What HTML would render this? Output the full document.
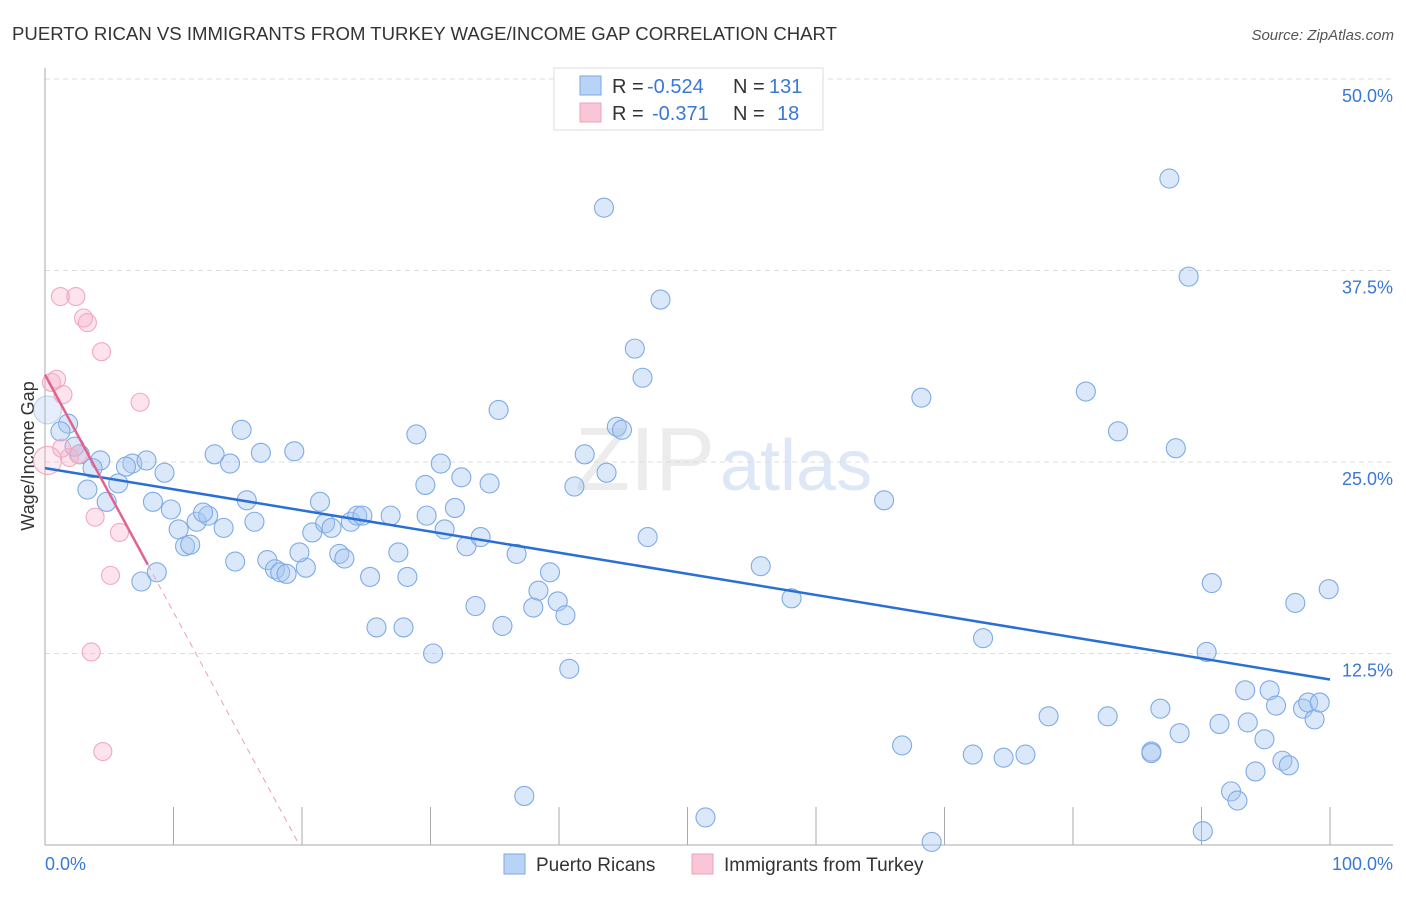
<!DOCTYPE html>
<html><head><meta charset="utf-8"><style>
body{margin:0;background:#fff;font-family:"Liberation Sans",sans-serif}
svg text{font-family:"Liberation Sans",sans-serif}
</style></head><body>
<svg id="chart" width="1406" height="892" xmlns="http://www.w3.org/2000/svg">
<text x="12" y="40" font-size="18" fill="#333" textLength="825" lengthAdjust="spacingAndGlyphs">PUERTO RICAN VS IMMIGRANTS FROM TURKEY WAGE/INCOME GAP CORRELATION CHART</text>
<text x="1394" y="40" font-size="15" fill="#555" text-anchor="end" font-style="italic">Source: ZipAtlas.com</text>
<text transform="translate(34,456) rotate(-90)" font-size="18" fill="#333" text-anchor="middle">Wage/Income Gap</text>
<text x="715" y="490" font-size="90" fill="#ececec" text-anchor="end" font-family="Liberation Serif">ZIP</text>
<text x="720" y="490" font-size="72" fill="#dde7f6">atlas</text>
<g id="grid"></g><g id="axes"></g><g id="marks"></g><g id="lines"></g>
<g>
<rect x="554" y="68" width="269" height="62" fill="#fff" stroke="#ddd"/>
<rect x="580" y="76" width="21" height="19" fill="#b8d3f5" stroke="#7aa8e6"/>
<rect x="580" y="103" width="21" height="19" fill="#f9c6d6" stroke="#f0a0b8"/>
<text x="612" y="93" font-size="20" fill="#333">R =</text>
<text x="647" y="93" font-size="20" fill="#3a78d4">-0.524</text>
<text x="733" y="93" font-size="20" fill="#333">N =</text>
<text x="769" y="93" font-size="20" fill="#3a78d4">131</text>
<text x="612" y="120" font-size="20" fill="#333">R =</text>
<text x="652" y="120" font-size="20" fill="#3a78d4">-0.371</text>
<text x="733" y="120" font-size="20" fill="#333">N =</text>
<text x="777" y="120" font-size="20" fill="#3a78d4">18</text>
</g>
<g>
<rect x="504" y="854" width="21" height="20" fill="#b8d3f5" stroke="#7aa8e6"/>
<text x="536" y="871" font-size="19" fill="#333">Puerto Ricans</text>
<rect x="692" y="854" width="21" height="20" fill="#f9c6d6" stroke="#f0a0b8"/>
<text x="724" y="871" font-size="19" fill="#333">Immigrants from Turkey</text>
</g>
</svg>
<script>
const blueX=[0.2,1.8,1.2,2.3,2.7,4.3,3.7,5.7,3.3,4.8,6.8,7.9,6.3,9.3,8.4,9.8,7.5,8.7,10.4,10.9,11.3,11.8,12.7,12.3,13.9,14.8,13.2,15.3,14.4,16.8,15.7,16.3,17.3,17.9,18.3,18.8,19.4,20.3,19.8,20.8,21.4,21.8,22.3,22.9,23.3,23.8,24.3,24.7,25.3,25.8,26.9,27.5,27.9,28.2,28.9,29.6,29.7,30.2,30.8,31.1,31.9,32.4,32.8,33.5,33.9,34.6,35.3,35.6,36.7,37.3,38.0,38.4,39.3,39.9,40.5,40.8,41.2,42.0,43.5,43.7,44.5,44.9,45.9,46.5,46.9,47.9,51.4,55.7,58.1,65.3,66.7,68.2,69.0,72.2,73.0,74.6,76.3,78.1,81.0,82.7,83.5,86.1,86.1,86.8,87.5,88.0,88.3,89.0,90.1,90.4,90.8,91.4,92.3,92.8,93.4,93.6,94.2,94.9,95.3,95.8,96.3,96.8,97.3,97.9,98.3,98.8,99.2,99.9];
const blueY=[28.4,27.5,27.0,26.0,25.5,25.1,24.6,23.6,23.2,22.4,24.9,25.1,24.7,24.3,22.4,21.9,17.2,17.8,20.6,19.5,19.6,21.1,21.5,21.7,20.7,18.5,25.5,27.1,24.9,25.6,22.5,21.1,18.6,18.0,17.8,17.7,25.7,18.1,19.1,20.4,22.4,21.0,20.7,19.0,18.7,21.1,21.5,21.5,17.5,14.2,21.5,19.1,14.2,17.5,26.8,23.5,21.5,12.5,24.9,20.6,22.0,24.0,19.5,15.6,20.1,23.6,28.4,14.3,19.0,3.2,15.5,16.6,17.8,15.9,15.0,11.5,23.4,25.5,41.6,24.3,27.3,27.1,32.4,30.5,20.1,35.6,1.8,18.2,16.1,22.5,6.5,29.2,0.2,5.9,13.5,5.7,5.9,8.4,29.6,8.4,27.0,6.1,6.0,8.9,43.5,25.9,7.3,37.1,0.9,12.6,17.1,7.9,3.5,2.9,10.1,8.0,4.8,6.9,10.1,9.1,5.5,5.2,15.8,8.9,9.3,8.2,9.3,16.7];
const pinkX=[0.5,0.9,1.2,2.4,3.0,3.3,1.4,4.4,7.4,3.9,5.8,5.1,3.6,4.5,1.9,2.6,0.2,1.3];
const pinkY=[30.2,30.4,35.8,35.8,34.4,34.1,29.4,32.2,28.9,21.4,20.4,17.6,12.6,6.1,25.3,25.5,25.1,25.9];
const blueTrend=[24.6,10.8];
const pinkTrend=[30.7,18.3,8.0,19.8];
const yTicks=[12.5,25,37.5,50];
const yTickLabels=["12.5%","25.0%","37.5%","50.0%"];
const NS="http://www.w3.org/2000/svg";
const sx=v=>45+v*12.85, sy=v=>845-v*15.32;
function mk(tag,attrs,parent){const e=document.createElementNS(NS,tag);for(const k in attrs)e.setAttribute(k,attrs[k]);document.getElementById(parent).appendChild(e);return e;}
yTicks.forEach((t,i)=>{
 const g=mk('line',{x1:45,x2:1393,y1:sy(t),y2:sy(t),stroke:'#ddd','stroke-dasharray':'5,4'},'grid');
 
 
 const l=mk('text',{x:1393,y:sy(t)+23,'font-size':18,fill:'#3a78d4','text-anchor':'end'},'grid');
 l.textContent=yTickLabels[i];
 
 
});
const ax=mk('line',{x1:45,x2:45,y1:68,y2:845,stroke:'#aaa'},'axes');


const bx=mk('line',{x1:45,x2:1393,y1:845,y2:845,stroke:'#aaa'},'axes');


for(let i=1;i<=10;i++){const t=mk('line',{x1:sx(i*10),x2:sx(i*10),y1:807,y2:845,stroke:'#aaa'},'axes');
 
 }
const x0=mk('text',{x:45,y:870,'font-size':18,fill:'#3a78d4'},'axes');x0.textContent='0.0%';


const x1=mk('text',{x:1393,y:870,'font-size':18,fill:'#3a78d4','text-anchor':'end'},'axes');x1.textContent='100.0%';


blueX.forEach((x,i)=>{const c=mk('circle',{cx:sx(x),cy:sy(blueY[i]),r:i==0?14:9.5,fill:i==0?'rgba(170,200,240,0.3)':'rgba(165,198,240,0.4)',stroke:i==0?'rgba(120,160,225,0.4)':'#7fabe6','stroke-width':1.1},'marks');
 
 });
pinkX.forEach((x,i)=>{const c=mk('circle',{cx:sx(x),cy:sy(pinkY[i]),r:i==16?14:9,fill:i==16?'rgba(246,180,200,0.25)':'rgba(246,176,200,0.35)',stroke:'#f2a8c0','stroke-width':1.1},'marks');
 
 });
const bl=mk('line',{x1:sx(0),y1:sy(blueTrend[0]),x2:sx(100),y2:sy(blueTrend[1]),stroke:'#2a6fd6','stroke-width':2.5},'lines');


const pl=mk('line',{x1:sx(0),y1:sy(pinkTrend[0]),x2:sx(pinkTrend[2]),y2:sy(pinkTrend[1]),stroke:'#e0648e','stroke-width':2.5},'lines');


const pd=mk('line',{x1:sx(pinkTrend[2]),y1:sy(pinkTrend[1]),x2:sx(pinkTrend[3]),y2:sy(0),stroke:'#e8a0b8','stroke-width':1,'stroke-dasharray':'6,5'},'lines');


</script>
</body></html>
